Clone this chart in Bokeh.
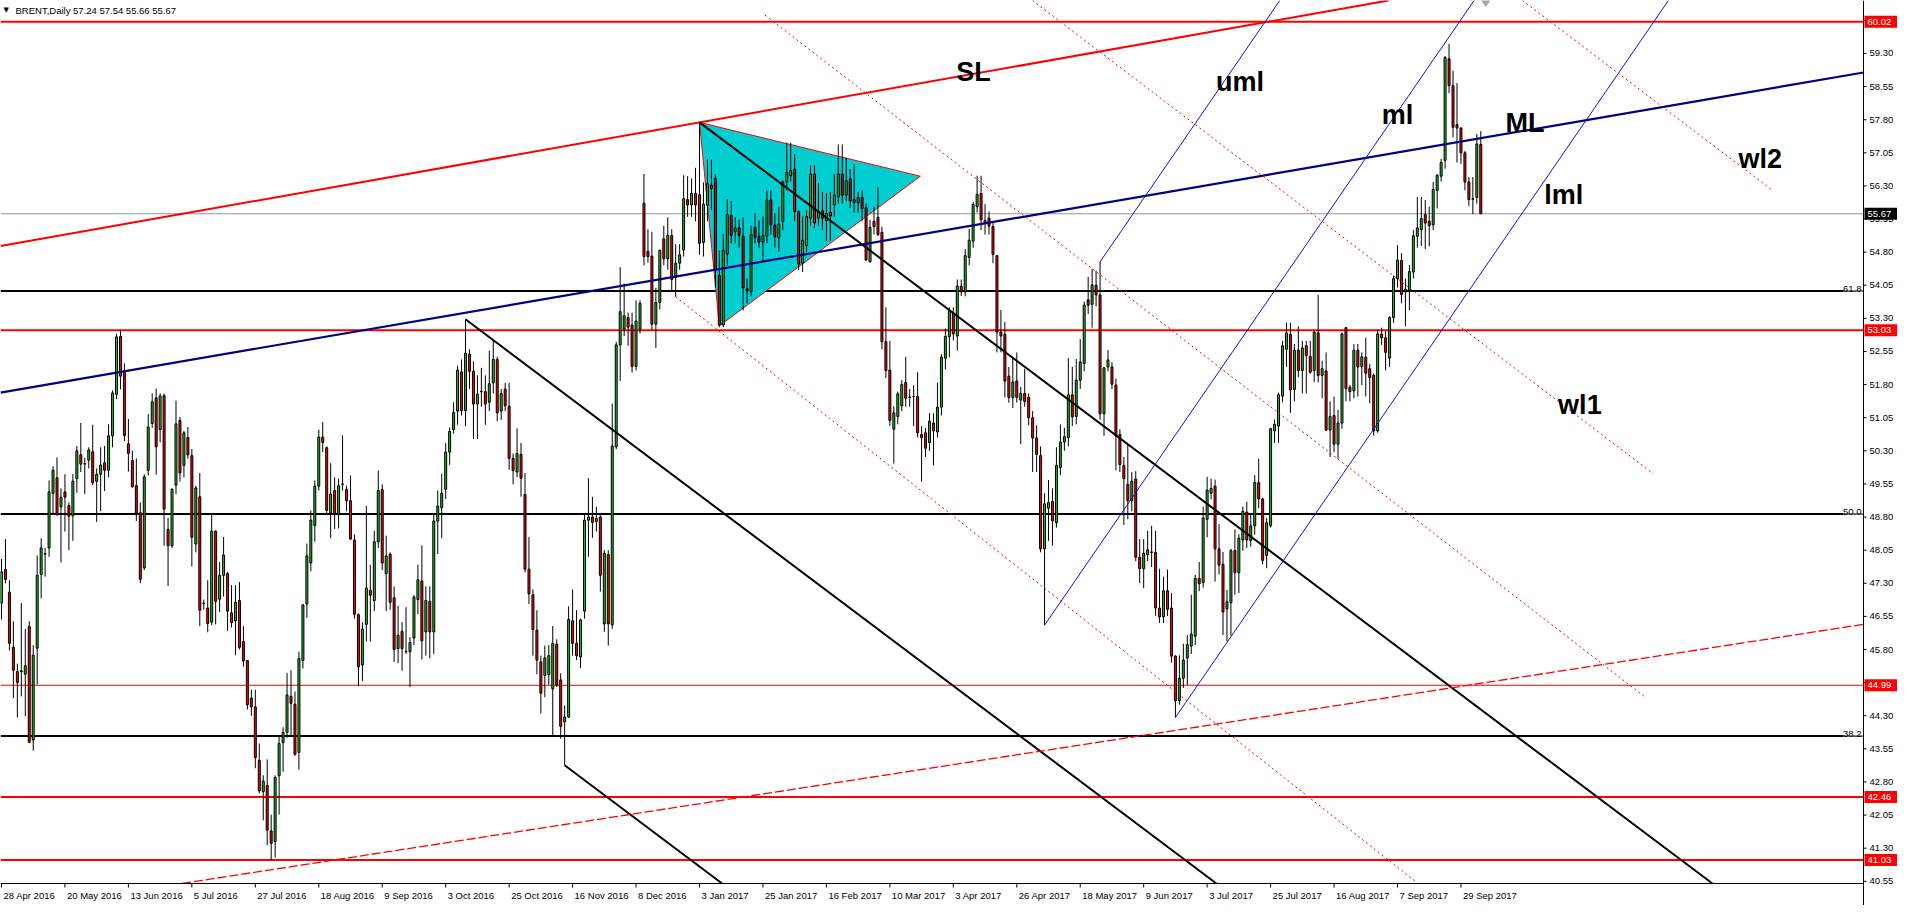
from bokeh.plotting import figure
from bokeh.models import Range1d, ColumnDataSource
from bokeh.embed import file_html
from bokeh.resources import INLINE
from bokeh.core.properties import value

# ---------------- data (bar index 0 = 28 Apr 2016, daily bars) ----------------
opens = [46.85, 47.61, 47.10, 45.85, 45.30, 45.30, 45.24, 46.32, 43.75, 45.83,
         47.50, 47.96, 48.10, 49.34, 49.69, 49.03, 49.37, 49.06, 48.83, 49.67,
         50.21, 50.00, 50.09, 50.28, 49.61, 49.77, 50.03, 49.86, 50.64, 51.58,
         52.89, 52.08, 50.46, 50.08, 49.51, 48.90, 47.65, 49.86, 50.92, 51.50,
         50.78, 51.55, 48.52, 48.15, 49.52, 50.99, 49.97, 50.60, 50.19, 48.19,
         49.26, 46.84, 46.74, 46.42, 48.48, 46.94, 47.48, 47.52, 46.63, 46.45,
         46.91, 45.98, 45.55, 44.70, 44.50, 43.29, 42.58, 42.72, 41.69, 41.45,
         42.94, 43.69, 43.92, 44.74, 44.56, 43.47, 45.55, 46.83, 47.76, 48.61,
         49.50, 50.61, 50.37, 48.89, 49.40, 48.87, 49.54, 49.43, 49.17, 48.28,
         46.59, 45.45, 46.37, 47.14, 46.91, 48.24, 49.42, 47.52, 47.96, 46.97,
         45.82, 46.21, 45.75, 45.75, 46.06, 46.93, 47.35, 46.20, 46.89, 46.20,
         48.71, 49.01, 49.43, 50.27, 50.78, 51.20, 52.09, 51.21, 52.49, 52.10,
         51.36, 51.64, 51.64, 51.40, 51.84, 52.37, 51.20, 51.70, 51.31, 50.13,
         49.82, 50.22, 49.31, 47.62, 47.04, 46.24, 45.52, 45.21, 45.23, 44.91,
         45.92, 45.11, 44.16, 44.27, 46.45, 45.94, 45.63, 46.67, 48.73, 48.80,
         48.70, 48.80, 46.38, 47.95, 46.36, 50.39, 52.70, 53.06, 53.32, 53.15,
         52.21, 53.06, 55.91, 54.82, 54.71, 53.17, 53.66, 55.10, 54.65, 55.18,
         54.23, 54.55, 54.85, 55.99, 55.87, 56.13, 56.10, 55.02, 55.86, 56.32,
         56.47, 54.27, 53.15, 54.76, 55.63, 55.26, 55.35, 55.16, 53.97, 53.90,
         55.36, 55.16, 55.03, 55.16, 55.98, 55.41, 55.12, 55.50, 56.39, 56.53,
         56.68, 55.72, 54.55, 54.95, 55.57, 56.57, 55.57, 55.74, 55.51, 55.70,
         55.87, 56.05, 56.57, 56.09, 56.46, 55.99, 55.92, 56.04, 55.81, 54.58,
         55.50, 55.59, 55.25, 52.77, 52.13, 50.79, 51.08, 51.32, 51.85, 51.51,
         51.53, 51.53, 50.67, 50.71, 50.49, 50.93, 50.73, 51.29, 52.40, 52.89,
         53.42, 52.90, 54.03, 53.90, 54.68, 55.05, 55.83, 56.13, 55.52, 55.57,
         55.38, 54.72, 52.99, 52.94, 51.99, 51.51, 51.88, 51.45, 51.60, 51.51,
         51.05, 50.59, 50.19, 48.08, 49.00, 49.15, 48.67, 49.92, 50.50, 50.60,
         51.57, 51.08, 51.90, 52.28, 53.72, 53.62, 54.05, 53.83, 51.14, 52.20,
         52.20, 51.79, 50.67, 49.97, 49.54, 49.17, 49.66, 47.89, 47.63, 47.95,
         48.00, 48.00, 46.74, 46.54, 47.13, 46.74, 45.65, 44.64, 45.15, 45.61,
         45.88, 46.10, 47.41, 47.32, 48.75, 49.34, 49.50, 48.08, 47.73, 46.72,
         46.86, 48.04, 47.54, 48.28, 48.91, 48.27, 48.60, 49.58, 49.21, 47.93,
         48.60, 50.75, 50.86, 51.54, 52.60, 52.94, 51.69, 52.58, 52.12, 52.68,
         52.44, 52.12, 52.97, 52.01, 52.11, 50.77, 51.10, 50.45, 50.93, 53.09,
         51.74, 51.66, 52.58, 52.21, 52.42, 52.16, 52.01, 50.75, 52.94, 52.86,
         52.40, 53.32, 54.20, 54.61, 53.90, 53.94, 54.35, 55.16, 55.31, 55.65,
         55.50, 55.42, 56.20, 56.52, 56.88, 59.18, 58.57, 57.69, 57.61, 57.05,
         56.39, 56.01, 56.04, 57.24]

highs = [47.85, 48.30, 47.37, 46.44, 45.48, 46.85, 46.26, 46.44, 45.90, 47.93,
         48.32, 48.10, 49.63, 49.95, 50.15, 49.45, 49.77, 49.13, 49.77, 50.41,
         50.93, 50.14, 50.38, 50.89, 49.90, 50.38, 50.41, 50.90, 51.67, 52.95,
         53.05, 52.28, 51.02, 50.30, 50.13, 49.13, 49.77, 51.13, 51.60, 51.71,
         51.60, 51.60, 48.78, 49.45, 51.44, 51.07, 50.75, 50.84, 50.34, 49.51,
         49.80, 46.93, 47.37, 48.86, 48.50, 47.78, 48.35, 47.56, 47.26, 47.26,
         47.33, 46.33, 45.56, 44.89, 44.89, 43.67, 42.95, 43.31, 42.06, 42.95,
         43.83, 44.04, 45.27, 45.33, 44.85, 45.75, 46.83, 48.20, 48.95, 49.63,
         50.78, 50.95, 50.40, 50.02, 49.70, 49.67, 50.65, 49.51, 49.74, 48.41,
         46.62, 46.42, 49.05, 47.72, 48.49, 49.85, 49.54, 48.38, 48.00, 47.23,
         46.79, 46.42, 46.76, 46.08, 47.03, 47.72, 48.16, 47.23, 47.23, 48.89,
         49.40, 49.78, 50.47, 50.83, 51.40, 52.23, 52.37, 53.28, 52.60, 52.33,
         52.01, 52.18, 52.01, 52.57, 52.81, 52.43, 51.70, 51.84, 51.84, 50.24,
         50.81, 50.48, 49.80, 48.35, 47.16, 46.69, 45.66, 45.89, 45.90, 46.33,
         46.03, 45.26, 44.53, 46.78, 47.16, 46.69, 46.50, 48.89, 49.68, 49.26,
         49.03, 48.84, 48.05, 48.05, 51.37, 52.77, 54.46, 54.09, 53.43, 53.43,
         53.71, 53.71, 56.57, 55.32, 55.26, 53.99, 54.86, 55.40, 55.59, 55.32,
         54.98, 54.98, 56.54, 56.52, 56.47, 56.71, 57.74, 56.38, 56.90, 56.90,
         56.57, 54.84, 55.21, 56.00, 55.96, 55.59, 55.54, 55.59, 54.20, 55.40,
         55.68, 55.52, 55.61, 56.20, 56.20, 55.68, 55.83, 56.42, 57.28, 57.28,
         57.02, 55.75, 55.61, 55.75, 56.76, 56.76, 56.36, 56.16, 56.13, 56.16,
         56.57, 57.24, 57.24, 56.94, 56.68, 56.79, 56.16, 56.20, 55.90, 55.53,
         55.83, 56.27, 55.38, 53.55, 52.79, 51.31, 51.64, 51.90, 52.43, 51.70,
         51.79, 52.08, 50.86, 50.82, 51.15, 51.15, 51.84, 52.49, 53.07, 53.55,
         53.55, 54.18, 54.18, 54.87, 55.33, 55.94, 56.53, 56.53, 55.89, 55.72,
         55.46, 54.73, 53.49, 53.22, 52.20, 52.38, 52.53, 51.75, 52.16, 51.60,
         51.20, 50.88, 50.40, 49.34, 49.64, 49.45, 50.38, 50.90, 50.82, 52.40,
         52.20, 52.38, 52.83, 53.68, 54.24, 54.42, 54.38, 54.58, 52.20, 52.58,
         52.31, 51.94, 50.79, 50.16, 50.45, 49.82, 49.84, 48.30, 48.30, 48.49,
         48.60, 48.49, 47.63, 47.45, 47.61, 47.08, 45.67, 45.67, 45.93, 46.13,
         47.04, 47.49, 47.78, 49.04, 49.71, 49.67, 49.65, 48.64, 48.01, 47.15,
         48.08, 48.52, 48.41, 49.04, 49.15, 48.89, 49.75, 50.12, 49.24, 48.78,
         50.82, 51.01, 51.62, 52.79, 53.20, 53.20, 52.72, 53.12, 52.79, 52.79,
         52.79, 53.01, 53.83, 52.34, 52.53, 51.42, 51.53, 51.23, 52.98, 53.10,
         51.79, 52.72, 52.72, 52.53, 52.86, 52.27, 52.05, 53.05, 53.09, 53.01,
         53.35, 54.27, 54.96, 54.78, 54.20, 54.51, 55.30, 56.05, 56.05, 55.98,
         55.83, 56.39, 56.57, 56.91, 59.24, 59.52, 58.91, 58.63, 57.63, 57.09,
         56.50, 56.50, 57.48, 57.54]

lows = [46.48, 47.30, 45.78, 44.70, 44.26, 44.74, 44.29, 43.68, 43.51, 45.01,
        46.96, 47.45, 47.90, 48.86, 48.82, 47.77, 48.47, 48.05, 48.26, 49.35,
        49.82, 49.32, 49.90, 49.52, 48.69, 48.93, 49.39, 49.70, 50.38, 51.47,
        51.69, 50.52, 49.83, 49.46, 48.71, 47.30, 47.60, 49.74, 50.82, 49.76,
        50.49, 48.15, 47.24, 48.10, 49.32, 49.60, 49.70, 50.12, 47.68, 48.00,
        46.33, 46.70, 46.19, 46.35, 46.37, 46.65, 47.00, 46.22, 46.30, 45.67,
        45.80, 45.41, 44.44, 44.30, 43.11, 42.54, 41.93, 41.37, 41.03, 41.09,
        42.06, 43.03, 43.80, 43.84, 43.39, 43.08, 45.37, 46.52, 47.57, 48.24,
        49.40, 50.27, 48.89, 48.32, 48.53, 48.54, 49.40, 48.93, 48.29, 46.50,
        44.97, 45.09, 45.98, 45.98, 46.67, 48.10, 47.60, 46.67, 46.70, 45.52,
        45.49, 45.32, 45.70, 44.95, 45.90, 46.60, 45.57, 45.66, 45.60, 45.70,
        47.96, 48.32, 49.21, 49.98, 50.69, 50.89, 51.10, 50.86, 51.70, 50.57,
        50.57, 51.30, 50.89, 51.20, 51.60, 50.97, 51.00, 51.20, 49.87, 49.54,
        49.70, 49.26, 47.55, 46.83, 45.66, 45.24, 44.35, 44.72, 45.00, 43.83,
        44.95, 43.78, 43.18, 44.25, 45.66, 45.56, 45.38, 46.50, 47.90, 48.33,
        48.47, 47.11, 46.20, 45.89, 46.27, 50.34, 51.88, 52.90, 52.68, 52.07,
        52.12, 52.96, 54.50, 54.56, 53.04, 52.63, 53.50, 54.50, 54.40, 53.90,
        53.79, 54.40, 54.70, 55.60, 55.60, 55.50, 54.74, 54.70, 55.50, 55.75,
        54.00, 53.10, 53.10, 54.50, 55.00, 55.00, 54.90, 53.48, 53.64, 53.80,
        55.00, 54.90, 54.58, 55.00, 55.20, 54.90, 54.81, 55.30, 56.20, 56.40,
        55.50, 54.40, 54.35, 54.80, 55.40, 55.35, 55.40, 55.30, 55.05, 55.05,
        55.60, 55.90, 55.90, 55.95, 55.80, 55.70, 55.70, 55.50, 54.61, 54.57,
        55.20, 55.16, 52.60, 51.95, 50.86, 50.01, 50.90, 51.20, 51.30, 51.30,
        50.86, 50.60, 49.60, 50.16, 50.30, 49.97, 50.60, 51.10, 52.14, 52.42,
        52.80, 52.57, 53.81, 53.80, 54.50, 54.90, 55.70, 55.30, 55.20, 55.20,
        54.55, 52.53, 52.53, 51.51, 51.39, 51.27, 51.39, 50.45, 51.30, 50.88,
        49.82, 49.82, 48.00, 46.35, 48.26, 48.15, 48.56, 49.75, 50.30, 50.40,
        50.86, 50.90, 51.70, 52.10, 53.40, 53.09, 53.57, 51.00, 50.64, 52.10,
        51.70, 49.86, 49.82, 48.62, 48.75, 48.93, 47.80, 47.30, 47.19, 47.80,
        47.67, 46.56, 46.40, 46.40, 46.56, 45.50, 44.26, 44.55, 44.93, 45.00,
        45.70, 45.90, 47.12, 47.20, 48.34, 49.20, 47.34, 47.50, 46.13, 45.98,
        46.11, 47.04, 47.08, 48.04, 48.10, 48.13, 48.40, 49.00, 47.73, 47.64,
        48.56, 50.48, 50.48, 51.40, 52.20, 51.16, 51.42, 51.97, 51.60, 51.60,
        52.05, 51.86, 51.85, 51.49, 50.75, 50.16, 50.27, 50.12, 50.80, 51.42,
        51.42, 51.49, 51.53, 51.79, 51.53, 51.38, 50.64, 50.71, 52.70, 52.12,
        52.20, 53.20, 54.00, 53.64, 53.12, 53.49, 54.20, 54.90, 54.94, 54.87,
        54.93, 55.30, 55.79, 56.40, 56.69, 58.40, 57.40, 56.83, 56.80, 56.20,
        55.85, 55.66, 55.90, 55.66]

closes = [47.56, 47.39, 45.94, 45.33, 45.05, 45.32, 45.43, 43.70, 45.67, 47.48,
          48.10, 47.97, 49.37, 49.86, 48.86, 49.24, 49.25, 48.82, 49.61, 50.30,
          50.00, 50.01, 50.32, 49.58, 49.77, 49.98, 49.86, 50.64, 51.61, 52.88,
          51.99, 50.65, 50.24, 49.49, 48.89, 47.39, 49.71, 50.84, 51.41, 50.39,
          51.54, 48.98, 48.15, 49.43, 50.91, 49.80, 50.71, 50.21, 48.34, 49.46,
          46.69, 46.85, 46.39, 48.48, 46.89, 47.48, 47.94, 46.67, 46.41, 46.87,
          45.85, 45.54, 44.55, 44.50, 43.35, 42.60, 42.82, 41.71, 41.41, 42.90,
          43.67, 43.92, 44.77, 44.58, 43.43, 45.59, 46.81, 47.92, 48.73, 49.50,
          50.61, 50.49, 48.95, 49.32, 48.87, 49.51, 49.55, 49.17, 48.30, 46.60,
          45.41, 46.26, 47.19, 47.03, 48.24, 49.40, 47.76, 47.92, 46.87, 45.80,
          46.12, 45.82, 45.76, 45.96, 46.99, 47.38, 46.00, 46.91, 46.20, 48.71,
          49.05, 49.34, 50.27, 50.74, 51.17, 52.13, 51.21, 52.51, 52.10, 51.36,
          51.58, 51.65, 51.36, 51.82, 52.37, 51.16, 51.60, 51.32, 50.13, 49.85,
          50.24, 49.68, 47.62, 47.06, 46.25, 45.56, 44.81, 45.61, 45.66, 45.94,
          45.00, 44.06, 44.27, 46.48, 45.94, 45.66, 46.47, 48.73, 48.80, 48.68,
          48.77, 47.48, 47.98, 46.38, 50.41, 52.70, 53.45, 53.36, 53.10, 52.21,
          53.24, 53.64, 54.70, 54.70, 53.17, 53.66, 54.84, 54.65, 55.18, 54.18,
          54.55, 54.74, 56.01, 55.87, 56.13, 55.87, 55.00, 55.89, 56.35, 56.24,
          54.39, 53.15, 54.84, 55.65, 55.18, 55.35, 55.18, 53.99, 53.92, 55.20,
          55.14, 55.03, 55.18, 55.98, 55.42, 55.15, 55.44, 56.39, 56.61, 56.65,
          55.72, 54.53, 55.07, 55.61, 56.57, 55.46, 55.72, 55.57, 55.68, 55.62,
          56.09, 56.57, 56.09, 56.42, 55.96, 55.92, 56.04, 55.79, 54.62, 55.36,
          55.38, 55.20, 52.77, 52.12, 50.99, 51.16, 51.59, 51.80, 51.49, 51.52,
          51.53, 50.71, 50.60, 50.36, 50.97, 50.75, 51.29, 52.42, 52.89, 53.47,
          52.95, 54.03, 53.90, 54.72, 55.07, 55.88, 56.11, 55.53, 55.46, 55.39,
          54.75, 52.99, 52.90, 51.88, 51.51, 51.86, 51.51, 51.60, 51.42, 51.05,
          50.59, 50.22, 48.08, 49.10, 49.13, 48.71, 49.97, 50.50, 50.62, 51.57,
          51.07, 51.90, 52.31, 53.60, 53.60, 54.06, 53.83, 51.14, 52.18, 52.36,
          51.81, 50.64, 49.99, 49.67, 49.17, 49.61, 47.89, 47.63, 47.98, 48.06,
          48.01, 46.74, 46.54, 47.13, 46.71, 45.65, 44.64, 45.15, 45.56, 45.91,
          46.15, 47.41, 47.29, 48.78, 49.41, 49.45, 48.08, 47.71, 46.65, 46.88,
          48.04, 47.54, 48.32, 48.93, 48.28, 48.60, 49.58, 49.21, 47.82, 48.67,
          50.80, 50.90, 51.57, 52.68, 52.97, 51.68, 52.58, 52.12, 52.63, 52.46,
          52.08, 52.99, 52.01, 52.16, 50.77, 51.08, 50.45, 50.93, 52.95, 51.71,
          51.64, 52.58, 52.20, 52.43, 52.06, 51.96, 50.75, 52.95, 52.86, 52.53,
          53.32, 54.20, 54.62, 53.84, 53.96, 54.36, 55.17, 55.35, 55.56, 55.46,
          55.40, 56.22, 56.54, 56.83, 59.21, 58.57, 57.63, 57.61, 57.05, 56.39,
          55.99, 56.00, 57.25, 55.67]

date_labels = ["28 Apr 2016", "20 May 2016", "13 Jun 2016", "5 Jul 2016", "27 Jul 2016",
               "18 Aug 2016", "9 Sep 2016", "3 Oct 2016", "25 Oct 2016", "16 Nov 2016",
               "8 Dec 2016", "3 Jan 2017", "25 Jan 2017", "16 Feb 2017", "10 Mar 2017",
               "3 Apr 2017", "26 Apr 2017", "18 May 2017", "9 Jun 2017", "3 Jul 2017",
               "25 Jul 2017", "16 Aug 2017", "7 Sep 2017", "29 Sep 2017"]
date_tick_bars = [0, 16, 32, 48, 64, 80, 96, 112, 128, 144, 160, 176, 192, 208, 224,
                  240, 256, 272, 288, 304, 320, 336, 352, 368]
price_ticks = [40.55, 41.30, 42.05, 42.80, 43.55, 44.30, 45.05, 45.80, 46.55, 47.30,
               48.05, 48.80, 49.55, 50.30, 51.05, 51.80, 52.55, 53.30, 54.05, 54.80,
               55.55, 56.30, 57.05, 57.80, 58.55, 59.30, 60.05]

header_text = "BRENT,Daily  57.24 57.54 55.66 55.67"
last_price = 55.67
red_levels = [60.02, 53.03, 44.99, 42.46, 41.03]
red_level_widths = [2, 2, 1, 2, 2]
fib_levels = [53.92, 48.87, 43.84]
fib_names = ["61.8", "50.0", "38.2"]

# drawn objects: anchor points (bar, price)
sl_x, sl_y = [-0.25, 176], [54.94, 57.74]
ml_x, ml_y = [-0.25, 469.5], [51.62, 58.87]
chan_x, chan_y = [176, 432], [57.74, 40.46]
chan_par_x, chan_par_y = [117, 142], [53.28, 43.18]
pf_x, pf_y = [263, 277, 296], [46.35, 54.58, 44.26]
wl_x0 = [192.5, 259.5, 381.0, 170.0]
wl_y0 = [60.17, 60.53, 60.67, 53.79]
wl_x1 = [414.75, 416.5, 446.25, 356.9]
wl_y1 = [44.70, 49.78, 56.22, 40.52]
dash_x, dash_y = [45.5, 469.5], [40.50, 46.37]
tri_x, tri_y = [176, 181, 231.7], [57.74, 53.13, 56.52]
shift_bar = 374.25

lbl_text = ["SL", "uml", "ml", "ML", "lml", "wl1", "wl2"]
lbl_x = [240.75, 306.25, 348.0, 379.25, 389.0, 392.5, 438.0]
lbl_y = [58.88, 58.66, 57.90, 57.72, 56.09, 51.33, 56.90]

# ---------------- layout ----------------
X0, X1 = -0.25, 469.5          # chart area in bars
Y0, Y1 = 40.50, 60.50          # chart area in price
FIG_W, FIG_H = 1897, 905
PLOT_W, PLOT_H = 1863, 883      # chart area in px; the rest is the price / date scale
DX = (X1 - X0) / PLOT_W         # bars per px
DY = (Y1 - Y0) / PLOT_H         # price per px
XR = X0 + FIG_W * DX
YB = Y1 - FIG_H * DY
FONT = "Liberation Sans"
SMALL = "9.5px"

p = figure(width=FIG_W, height=FIG_H, x_range=Range1d(X0, XR), y_range=Range1d(YB, Y1),
           output_backend="svg", toolbar_location=None, x_axis_location=None,
           y_axis_location=None, min_border_left=0, min_border_right=0,
           min_border_top=0, min_border_bottom=0)
p.outline_line_color = None
p.background_fill_color = "white"
p.border_fill_color = "white"
p.xgrid.visible = False
p.ygrid.visible = False


def clip(xa, ya, xb, yb):
    """clip segment to the chart rectangle"""
    t0, t1 = 0.0, 1.0
    ddx, ddy = xb - xa, yb - ya
    for pp, qq in ((-ddx, xa - X0), (ddx, X1 - xa), (-ddy, ya - Y0), (ddy, Y1 - ya)):
        if pp == 0:
            if qq < 0:
                return None
        else:
            r = qq / pp
            if pp < 0:
                t0 = max(t0, r)
            else:
                t1 = min(t1, r)
    if t0 > t1:
        return None
    return [xa + t0 * ddx, xa + t1 * ddx], [ya + t0 * ddy, ya + t1 * ddy]


def ray(xa, ya, slope, x_from, x_to):
    return clip(x_from, ya + slope * (x_from - xa), x_to, ya + slope * (x_to - xa))


# horizontal levels
for lv, w in zip(red_levels, red_level_widths):
    p.line([X0, X1], [lv, lv], line_color="#FF0000", line_width=w)
for lv in fib_levels:
    p.line([X0, X1 - 20 * DX], [lv, lv], line_color="black", line_width=2)
    p.line([X1 - 20 * DX, X1], [lv, lv], line_color="black", line_width=1)
p.line([X0, X1], [last_price, last_price], line_color="#8C98A4", line_width=1)

# triangle
p.patch(tri_x, tri_y, fill_color="#00CED1", line_color="#FF0000", line_width=1)

# candles
wick_x = list(range(len(closes)))
body_top = [max(o, c) for o, c in zip(opens, closes)]
body_bot = [min(o, c) for o, c in zip(opens, closes)]
body_col = ["#1FBA1F" if c >= o else "#FF0000" for o, c in zip(opens, closes)]
src = ColumnDataSource(dict(x=wick_x, hi=highs, lo=lows, top=body_top, bot=body_bot, col=body_col))
p.segment(x0="x", y0="lo", x1="x", y1="hi", source=src, line_color="black", line_width=1)
p.vbar(x="x", top="top", bottom="bot", width=0.5, source=src, fill_color="col", line_color="black", line_width=1)

# SL line
s = (sl_y[1] - sl_y[0]) / (sl_x[1] - sl_x[0])
xs, ys = ray(sl_x[0], sl_y[0], s, X0, X1)
p.line(xs, ys, line_color="#FF0000", line_width=2)
# thick median line
s = (ml_y[1] - ml_y[0]) / (ml_x[1] - ml_x[0])
xs, ys = ray(ml_x[0], ml_y[0], s, X0, X1)
p.line(xs, ys, line_color="#000080", line_width=2.2)
# black channel
cs = (chan_y[1] - chan_y[0]) / (chan_x[1] - chan_x[0])
for bx, by in zip([chan_x[0]] + chan_par_x, [chan_y[0]] + chan_par_y):
    xs, ys = ray(bx, by, cs, bx, X1)
    p.line(xs, ys, line_color="black", line_width=2)
# pitchfork
mid_x = (pf_x[1] + pf_x[2]) / 2
mid_y = (pf_y[1] + pf_y[2]) / 2
pslope = (mid_y - pf_y[0]) / (mid_x - pf_x[0])
for bx, by in zip(pf_x, pf_y):
    xs, ys = ray(bx, by, pslope, bx, X1)
    p.line(xs, ys, line_color="#1414C8", line_width=1)
# warning lines (dotted)
for a, b, c, d in zip(wl_x0, wl_y0, wl_x1, wl_y1):
    xs, ys = clip(a, b, c, d)
    p.line(xs, ys, line_color="#FF0000", line_width=1, line_dash="2 3")
# dashed rising line
s = (dash_y[1] - dash_y[0]) / (dash_x[1] - dash_x[0])
xs, ys = ray(dash_x[0], dash_y[0], s, X0, X1)
p.line(xs, ys, line_color="#FF0000", line_width=1.3, line_dash="9 3")

# shift marker
p.scatter([shift_bar], [Y1], marker="diamond", size=12, fill_color="#A8A8A8", line_color="#A8A8A8")

# big labels
p.text(x=lbl_x, y=lbl_y, text=lbl_text, text_font=value(FONT), text_font_style="bold",
       text_font_size=value("27px"), text_color="black", text_baseline="alphabetic", text_align="left")

# fib labels
p.text(x=[X1 - 2 * DX] * 3, y=[lv + 2 * DY for lv in fib_levels], text=fib_names,
       text_font=value(FONT), text_font_size=value(SMALL), text_color="black",
       text_align="right", text_baseline="alphabetic")

# ---------------- price scale (right) ----------------
p.line([X1, X1], [YB, Y1], line_color="black", line_width=1)
p.segment(x0=[X1] * len(price_ticks), y0=price_ticks, x1=[X1 + 3 * DX] * len(price_ticks),
          y1=price_ticks, line_color="black", line_width=1)
p.text(x=[X1 + 6 * DX] * len(price_ticks), y=price_ticks, text=["%.2f" % t for t in price_ticks],
       text_font=value(FONT), text_font_size=value(SMALL), text_color="black",
       text_align="left", text_baseline="middle")
box_levels = red_levels + [last_price]
box_cols = ["#FF0000"] * len(red_levels) + ["black"]
p.quad(left=[X1 + 1 * DX] * len(box_levels), right=[XR] * len(box_levels),
       top=[lv + 6 * DY for lv in box_levels], bottom=[lv - 6 * DY for lv in box_levels],
       fill_color=box_cols, line_color=None)
p.text(x=[X1 + 4 * DX] * len(box_levels), y=box_levels, text=["%.2f" % lv for lv in box_levels],
       text_font=value(FONT), text_font_size=value(SMALL), text_color="white",
       text_align="left", text_baseline="middle")

# ---------------- date scale (bottom) ----------------
p.line([X0, X1], [Y0, Y0], line_color="black", line_width=1)
p.segment(x0=date_tick_bars, y0=[Y0] * len(date_tick_bars), x1=date_tick_bars,
          y1=[Y0 - 4 * DY] * len(date_tick_bars), line_color="black", line_width=1)
p.text(x=[t + 2 * DX for t in date_tick_bars], y=[Y0 - 12 * DY] * len(date_tick_bars), text=date_labels,
       text_font=value(FONT), text_font_size=value(SMALL), text_color="black",
       text_align="left", text_baseline="alphabetic")

# ---------------- header ----------------
p.text(x=[X0 + 3 * DX], y=[Y1 - 9 * DY], text=["\u25BC"], text_font=value("DejaVu Sans"),
       text_font_size=value("7px"), text_color="black", text_align="left", text_baseline="alphabetic")
p.text(x=[X0 + 15 * DX], y=[Y1 - 9.5 * DY], text=[header_text], text_font=value(FONT),
       text_font_size=value(SMALL), text_color="black", text_align="left", text_baseline="alphabetic")

open("out.html", "w").write(file_html(p, INLINE))
